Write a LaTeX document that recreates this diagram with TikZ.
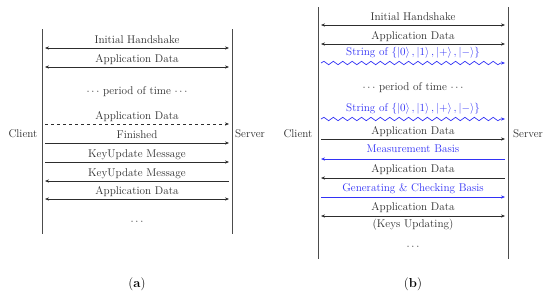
\documentclass[tikz,border=0pt]{standalone}
\usetikzlibrary{arrows.meta,decorations.pathmorphing}
\definecolor{ink}{RGB}{45,45,45}
\definecolor{qblue}{RGB}{50,50,245}
\begin{document}
\begin{tikzpicture}[x=1pt,y=-1pt,
  lbl/.style={font=\fontsize{11.2}{13}\selectfont, text=ink, inner sep=0pt, anchor=base},
  qlbl/.style={lbl, text=qblue},
  life/.style={draw=ink!85, line width=1pt},
  msg/.style={draw=ink, line width=0.65pt},
  qmsg/.style={draw=qblue, line width=0.7pt},
  tipr/.style={-{Stealth[length=4pt,width=3.2pt]}},
  tipl/.style={{Stealth[length=4pt,width=3.2pt]}-},
  tipb/.style={{Stealth[length=4pt,width=3.2pt]}-{Stealth[length=4pt,width=3.2pt]}},
  wave/.style={qmsg, tipr, decorate, decoration={snake, amplitude=1.7pt, segment length=9.4pt, post length=4pt}},
  subcap/.style={font=\fontsize{13}{15}\selectfont, text=black, inner sep=0pt, anchor=base}]
\useasboundingbox (0,0) rectangle (550,295);

% ---------- panel (a) ----------
\coordinate (aCt) at (42,29);  \coordinate (aCb) at (42,234);
\coordinate (aSt) at (232,29); \coordinate (aSb) at (232,234);
\draw[life] (aCt) -- (aCb);
\draw[life] (aSt) -- (aSb);
\node[lbl] (aClient) at (23,137) {Client};
\node[lbl] (aServer) at (250,137) {Server};

\coordinate (a1s) at (45,48);  \coordinate (a1e) at (229,48);
\draw[msg,tipb] (a1s) -- (a1e);
\node[lbl] (a1t) at (137,43) {Initial Handshake};

\coordinate (a2s) at (45,67);  \coordinate (a2e) at (229,67);
\draw[msg,tipb] (a2s) -- (a2e);
\node[lbl] (a2t) at (137,62) {Application Data};

\node[lbl] (aPer) at (137,94) {$\cdots$ period of time $\cdots$};

\coordinate (a3s) at (45,124);  \coordinate (a3e) at (229,124);
\draw[msg,tipr,dashed] (a3s) -- (a3e);
\node[lbl] (a3t) at (137,119) {Application Data};

\coordinate (a4s) at (45,143);  \coordinate (a4e) at (229,143);
\draw[msg,tipr] (a4s) -- (a4e);
\node[lbl] (a4t) at (137,138) {Finished};

\coordinate (a5s) at (45,162);  \coordinate (a5e) at (229,162);
\draw[msg,tipr] (a5s) -- (a5e);
\node[lbl] (a5t) at (137,157) {KeyUpdate Message};

\coordinate (a6s) at (45,181);  \coordinate (a6e) at (229,181);
\draw[msg,tipl] (a6s) -- (a6e);
\node[lbl] (a6t) at (137,176) {KeyUpdate Message};

\coordinate (a7s) at (45,199);  \coordinate (a7e) at (229,199);
\draw[msg,tipb] (a7s) -- (a7e);
\node[lbl] (a7t) at (137,194) {Application Data};

\node[lbl] (aDots) at (137,224) {$\cdots$};
\node[subcap] (aCap) at (137,287) {(\textbf{a})};

% ---------- panel (b) ----------
\coordinate (bCt) at (318,7);  \coordinate (bCb) at (318,259);
\coordinate (bSt) at (508,7);  \coordinate (bSb) at (508,259);
\draw[life] (bCt) -- (bCb);
\draw[life] (bSt) -- (bSb);
\node[lbl] (bClient) at (298,137) {Client};
\node[lbl] (bServer) at (528,137) {Server};

\coordinate (b1s) at (321,25);  \coordinate (b1e) at (505,25);
\draw[msg,tipb] (b1s) -- (b1e);
\node[lbl] (b1t) at (413,20) {Initial Handshake};

\coordinate (b2s) at (321,44);  \coordinate (b2e) at (505,44);
\draw[msg,tipb] (b2s) -- (b2e);
\node[lbl] (b2t) at (413,39) {Application Data};

\coordinate (b3s) at (321,63);  \coordinate (b3e) at (505,63);
\draw[wave] (b3s) -- (b3e);
\node[qlbl] (b3t) at (413,55) {String of $\{\left|0\right\rangle,\left|1\right\rangle,\left|+\right\rangle,\left|-\right\rangle\}$};

\node[lbl] (bPer) at (413,90) {$\cdots$ period of time $\cdots$};

\coordinate (b4s) at (321,119);  \coordinate (b4e) at (505,119);
\draw[wave] (b4s) -- (b4e);
\node[qlbl] (b4t) at (413,111.5) {String of $\{\left|0\right\rangle,\left|1\right\rangle,\left|+\right\rangle,\left|-\right\rangle\}$};

\coordinate (b5s) at (321,139);  \coordinate (b5e) at (505,139);
\draw[msg,tipr] (b5s) -- (b5e);
\node[lbl] (b5t) at (413,134.5) {Application Data};

\coordinate (b6s) at (321,159);  \coordinate (b6e) at (505,159);
\draw[qmsg,tipl] (b6s) -- (b6e);
\node[qlbl] (b6t) at (413,152) {Measurement Basis};

\coordinate (b7s) at (321,178);  \coordinate (b7e) at (505,178);
\draw[msg,tipl] (b7s) -- (b7e);
\node[lbl] (b7t) at (413,172.5) {Application Data};

\coordinate (b8s) at (321,197);  \coordinate (b8e) at (505,197);
\draw[qmsg,tipr] (b8s) -- (b8e);
\node[qlbl] (b8t) at (413,191) {Generating \& Checking Basis};

\coordinate (b9s) at (321,216);  \coordinate (b9e) at (505,216);
\draw[msg,tipb] (b9s) -- (b9e);
\node[lbl] (b9t) at (413,210.5) {Application Data};
\node[lbl] (b9k) at (413,227.5) {(Keys Updating)};

\node[lbl] (bDots) at (413,249) {$\cdots$};
\node[subcap] (bCap) at (413,287) {(\textbf{b})};
\end{tikzpicture}
\end{document}
